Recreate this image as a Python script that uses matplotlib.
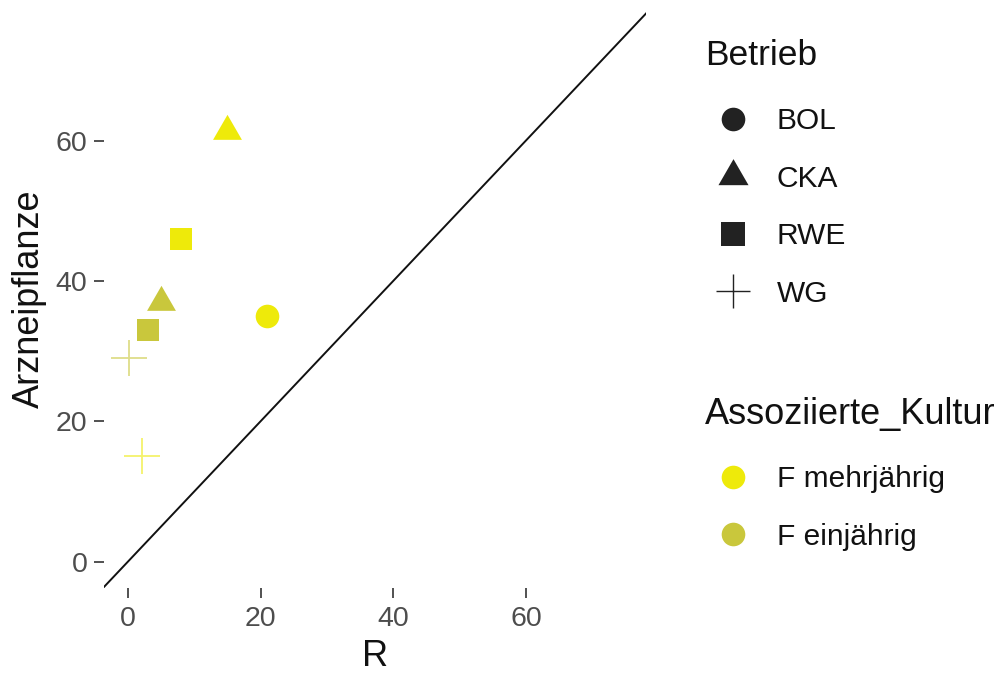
import matplotlib
matplotlib.use('Agg')
import matplotlib.pyplot as plt
from matplotlib.lines import Line2D

plt.rcParams['font.family'] = ['Liberation Sans', 'DejaVu Sans']

# data
betrieb = ['CKA', 'RWE', 'CKA', 'RWE', 'BOL', 'WG', 'WG']
kultur = ['F mehrjährig', 'F mehrjährig', 'F einjährig', 'F einjährig',
          'F mehrjährig', 'F einjährig', 'F mehrjährig']
r_vals = [15, 8, 5, 3, 21, 0.2, 2.2]
arznei_vals = [61.3, 46, 37, 33, 35, 29, 15]

betrieb_levels = ['BOL', 'CKA', 'RWE', 'WG']
kultur_levels = ['F mehrjährig', 'F einjährig']
xticks = [0, 20, 40, 60]
yticks = [0, 20, 40, 60]

# triangle centred on its centroid like R's pch 17
tri = [(0, 1), (-0.866, -0.5), (0.866, -0.5), (0, 1)]
shapes = {'BOL': 'o', 'CKA': tri, 'RWE': 's', 'WG': '+'}
sizes = {'BOL': 17, 'CKA': 24, 'RWE': 16.5, 'WG': 26}
colors = {'F mehrjährig': '#EEEA0A', 'F einjährig': '#C9C73C'}

fig = plt.figure(figsize=(10.03, 6.79), dpi=100)
W, H = 1003, 679
ax = fig.add_axes([104 / W, 1 - 588 / H, (646 - 104) / W, (588 - 10) / H])

xlim = (-3.6, 78.1)
ylim = (-3.75, 78.6)
ax.plot([-10, 90], [-10, 90], color='#111111', lw=1.4, zorder=1)

for b, k, x, y in zip(betrieb, kultur, r_vals, arznei_vals):
    if b == 'WG':
        ax.plot([x], [y], linestyle='none', marker='+', markersize=sizes[b],
                markeredgewidth=1.3, color=colors[k], alpha=0.6, zorder=2)
    else:
        ax.plot([x], [y], linestyle='none', marker=shapes[b], markersize=sizes[b],
                color=colors[k], markeredgewidth=0, zorder=3)

ax.set_xlim(*xlim)
ax.set_ylim(*ylim)
ax.set_xticks(xticks)
ax.set_yticks(yticks)
for s in ax.spines.values():
    s.set_visible(False)
ax.tick_params(axis='both', colors='#333333', length=7, width=1.2,
               labelsize=20.5, labelcolor='#4D4D4D')
ax.tick_params(axis='y', pad=5)
ax.tick_params(axis='x', pad=6)
ax.set_xlabel('R', fontsize=26, color='#111111', labelpad=5)
ax.set_ylabel('Arzneipflanze', fontsize=26, color='#111111', labelpad=6)

# legends
fig.text(705 / W, 1 - 65 / H, 'Betrieb', fontsize=25.5, color='#111111', va='baseline')
h1 = []
for b in betrieb_levels:
    if b == 'WG':
        h1.append(Line2D([], [], linestyle='none', marker='+', markersize=25,
                         markeredgewidth=1.0, color='#222222'))
    else:
        ms = {'BOL': 17, 'CKA': 25, 'RWE': 17}[b]
        h1.append(Line2D([], [], linestyle='none', marker=shapes[b], markersize=ms,
                         color='#222222', markeredgewidth=0))
leg_kw = dict(loc='upper left', frameon=False, fontsize=21.5, borderpad=0,
              borderaxespad=0, handlelength=1.9, handletextpad=0.5,
              labelspacing=0.99, labelcolor='#111111')
fig.legend(handles=h1, labels=betrieb_levels,
           bbox_to_anchor=(705 / W, 1 - 107 / H), **leg_kw)

fig.text(705 / W, 1 - 424 / H, 'Assoziierte_Kultur', fontsize=26, color='#111111',
         va='baseline')
h2 = [Line2D([], [], linestyle='none', marker='o', markersize=17,
             color=colors[k], markeredgewidth=0) for k in kultur_levels]
fig.legend(handles=h2, labels=kultur_levels,
           bbox_to_anchor=(705 / W, 1 - 465 / H), **leg_kw)

fig.savefig('out.png', dpi=100)
